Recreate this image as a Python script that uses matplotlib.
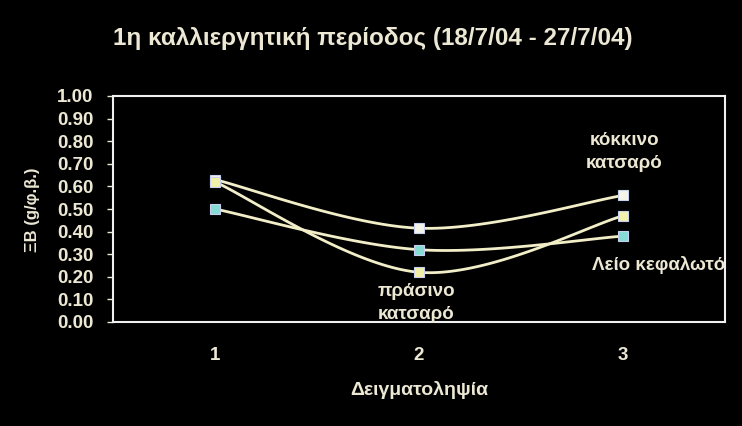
import numpy as np
import matplotlib
matplotlib.use("Agg")
import matplotlib.pyplot as plt

# ---- data ----
samplings = [1, 2, 3]
red_curly = [0.63, 0.415, 0.56]      # κόκκινο κατσαρό
smooth_head = [0.50, 0.32, 0.38]     # Λείο κεφαλωτό
green_curly = [0.62, 0.22, 0.47]     # πράσινο κατσαρό
yticks = [0.00, 0.10, 0.20, 0.30, 0.40, 0.50, 0.60, 0.70, 0.80, 0.90, 1.00]

title = "1η καλλιεργητική περίοδος (18/7/04 - 27/7/04)"
xlabel = "Δειγματοληψία"
ylabel = "ΞΒ (g/φ.β.)"

TXT = "#ece8d4"
BG = "black"


def smooth(x, y, n=60):
    """Excel-like smoothed line (Bezier through points)."""
    x = np.asarray(x, float); y = np.asarray(y, float)
    px = np.concatenate([[x[0]], x, [x[-1]]])
    py = np.concatenate([[y[0]], y, [y[-1]]])
    xs, ys = [], []
    t = np.linspace(0, 1, n)
    for i in range(1, len(px) - 2):
        p0 = np.array([px[i], py[i]]); p3 = np.array([px[i + 1], py[i + 1]])
        p1 = p0 + (np.array([px[i + 1], py[i + 1]]) - np.array([px[i - 1], py[i - 1]])) / 6
        p2 = p3 - (np.array([px[i + 2], py[i + 2]]) - np.array([px[i], py[i]])) / 6
        b = ((1 - t) ** 3)[:, None] * p0 + (3 * (1 - t) ** 2 * t)[:, None] * p1 \
            + (3 * (1 - t) * t ** 2)[:, None] * p2 + (t ** 3)[:, None] * p3
        xs.append(b[:, 0]); ys.append(b[:, 1])
    return np.concatenate(xs), np.concatenate(ys)


plt.rcParams['font.family'] = ['Liberation Sans', 'DejaVu Sans']
fig = plt.figure(figsize=(7.42, 4.26), dpi=100, facecolor=BG)
W, H = 742, 426
ax = fig.add_axes([113 / W, 1 - 322 / H, (725 - 113) / W, (322 - 96) / H], facecolor=BG)

series = [(red_curly, "#f4f4e8"), (smooth_head, "#86dcd4"), (green_curly, "#f2f0a8")]
for vals, mc in series:
    sx, sy = smooth(samplings, vals)
    ax.plot(sx, sy, color="#f2eec8", lw=2.0, zorder=2)
    ax.plot(samplings, vals, ls="none", marker="s", ms=7, mfc=mc, mec="#c8d0f0",
            mew=0.8, zorder=3)

ax.set_xlim(0.5, 3.5)
ax.set_ylim(0, 1)
ax.set_xticks(samplings)
ax.set_xticklabels([str(s) for s in samplings])
ax.set_yticks(yticks)
ax.set_yticklabels([f"{v:.2f}" for v in yticks])
ax.tick_params(axis='x', length=0, pad=18, colors=TXT, labelsize=13.5)
ax.tick_params(axis='y', length=4, width=1, pad=10, colors=TXT, labelsize=13.5, direction='out')
for lab in ax.get_xticklabels() + ax.get_yticklabels():
    lab.set_fontweight('bold')
for s in ax.spines.values():
    s.set_color("#f0f0f0")
    s.set_linewidth(1.5)

ax.set_xlabel(xlabel, color=TXT, fontsize=14, fontweight='bold', labelpad=12)
fig.text(32 / W, 1 - 210 / H, ylabel, rotation=90, color=TXT, fontsize=12,
         fontweight='bold', ha='center', va='center')
fig.text(373 / W, 1 - 38 / H, title, color=TXT, fontsize=17.5, fontweight='bold',
         ha='center', va='center')

ax.annotate("κόκκινο\nκατσαρό", xy=(3, red_curly[2]), xytext=(1, 31), textcoords='offset points',
            ha='center', va='center', color=TXT, fontsize=13.5, fontweight='bold',
            linespacing=1.45)
ax.annotate("πράσινο\nκατσαρό", xy=(2, green_curly[1]), xytext=(-2, -22), textcoords='offset points',
            ha='center', va='center', color=TXT, fontsize=13.5, fontweight='bold',
            linespacing=1.45)
ax.annotate("Λείο κεφαλωτό", xy=(3, smooth_head[2]), xytext=(26, -21), textcoords='offset points',
            ha='center', va='center', color=TXT, fontsize=13.5, fontweight='bold')

fig.savefig("out.png", dpi=100, facecolor=BG)
